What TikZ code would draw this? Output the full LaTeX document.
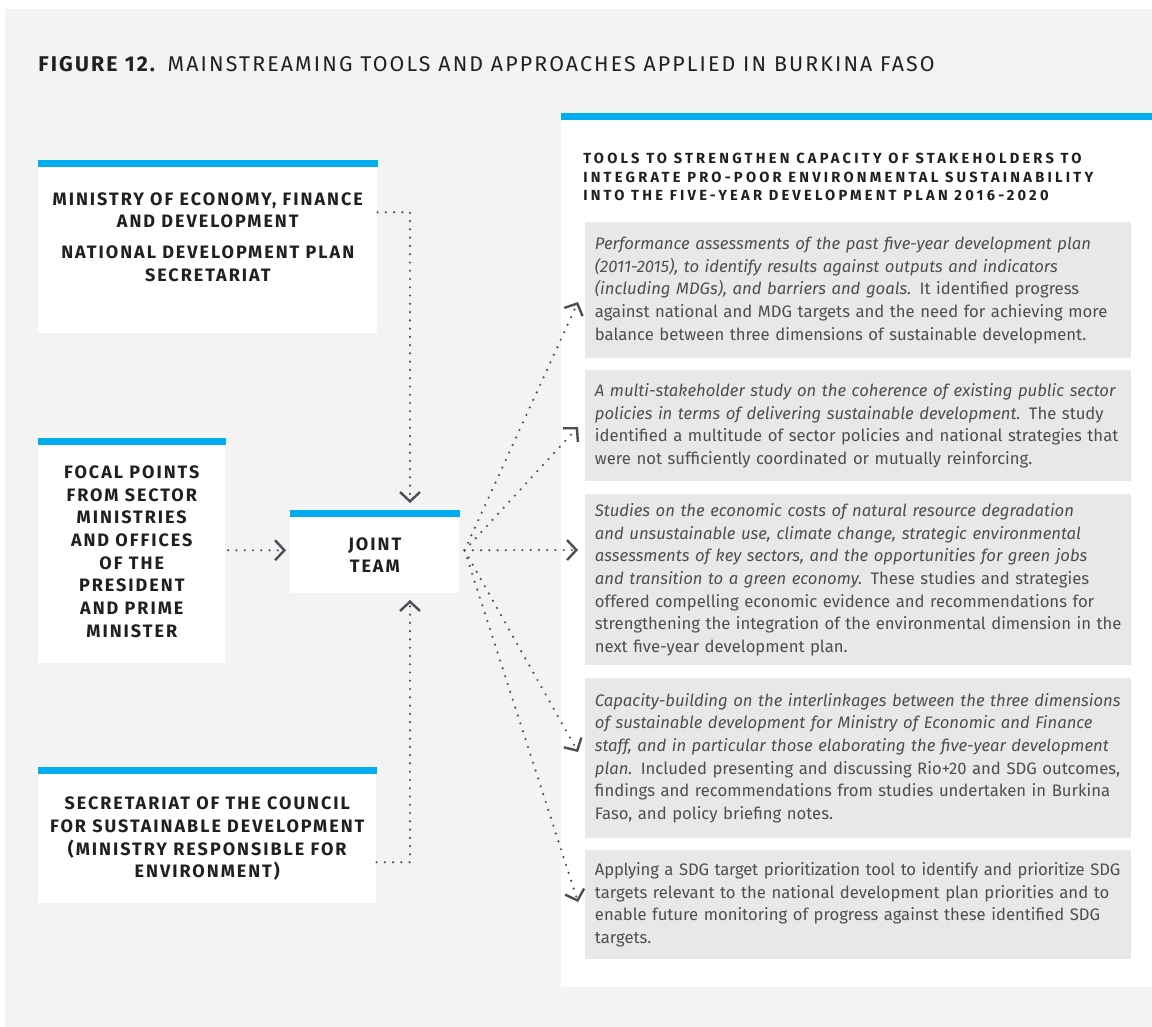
\documentclass[tikz,border=0pt]{standalone}
\usepackage{fontspec}
\setmainfont{Fira Sans}
\newfontfamily\capsfont{Fira Sans}[LetterSpace=11]
\newfontfamily\headfont{Fira Sans}[LetterSpace=22]
\newfontfamily\titlefont{Fira Sans}[LetterSpace=10]
\usetikzlibrary{arrows.meta,positioning}
\definecolor{barblue}{RGB}{0,174,239}
\definecolor{bggrey}{RGB}{243,243,243}
\definecolor{toolgrey}{RGB}{232,233,231}
\definecolor{ink}{RGB}{35,31,32}
\definecolor{bodyink}{RGB}{78,78,80}
\definecolor{arrowgrey}{RGB}{77,77,87}

\begin{document}
\begin{tikzpicture}[x=0.75pt,y=-0.75pt,
		box/.style={fill=white, inner sep=0pt, anchor=north west},
		caps/.style={font=\capsfont\bfseries\fontsize{13.5}{17}\selectfont, text=ink, align=center},
		tool/.style={fill=toolgrey, anchor=north west, inner xsep=7.25pt, inner ysep=0pt, text width=395pt, align=left, text=bodyink, font=\fontsize{12.5}{17}\selectfont},
		flow/.style={draw=arrowgrey, line width=1.8pt, line cap=round, dash pattern=on 0pt off 6.2pt, -{Straight Barb[length=7pt,width=15pt,line width=1.8pt]}}]
		\useasboundingbox (0,0) rectangle (1152,1027);
		\fill[white] (0,0) rectangle (1152,1027);
		\fill[bggrey] (5,9) rectangle (1152,1027);
		
		\node[anchor=base west, inner sep=0pt, text=ink, font=\titlefont\fontsize{16}{19}\selectfont] (title) at (38,72) {\textbf{FIGURE 12.} MAINSTREAMING TOOLS AND APPROACHES APPLIED IN BURKINA FASO};
		
		% the actors
		\node[box, minimum width=254.25pt, minimum height=124.5pt] (mef) at (38,167) {};
		\node[box, minimum width=140.25pt, minimum height=163.5pt] (focal) at (38,445) {};
		\node[box, minimum width=253.5pt, minimum height=96.75pt] (csd) at (38,774) {};
		\node[box, minimum width=126.75pt, minimum height=57pt] (joint) at (290,517) {};
		\node[box, minimum width=443.25pt, minimum height=650.25pt] (panel) at (561,120) {};
		
		\foreach \n in {mef,focal,csd,joint,panel}
			\fill[barblue] (\n.north west) rectangle ([yshift=5.25pt]\n.north east);
		
		\node[caps, yshift=10pt] (mefLbl) at (mef) {MINISTRY OF ECONOMY, FINANCE\\AND DEVELOPMENT\\[6pt]NATIONAL DEVELOPMENT PLAN\\SECRETARIAT};
		\node[caps, yshift=2pt] (focalLbl) at (focal) {FOCAL POINTS\\FROM SECTOR\\MINISTRIES\\AND OFFICES\\OF THE\\PRESIDENT\\AND PRIME\\MINISTER};
		\node[caps] (csdLbl) at (csd) {SECRETARIAT OF THE COUNCIL\\FOR SUSTAINABLE DEVELOPMENT\\(MINISTRY RESPONSIBLE FOR\\ENVIRONMENT)};
		\node[caps] (jointLbl) at (joint) {JOINT\\TEAM};
		
		% the tools
		\node[anchor=north west, align=left, inner sep=0pt, text=ink, font=\headfont\bfseries\fontsize{11}{13.75}\selectfont] (toolsHead) at (583,153) {TOOLS TO STRENGTHEN CAPACITY OF STAKEHOLDERS TO\\INTEGRATE PRO-POOR ENVIRONMENTAL SUSTAINABILITY\\INTO THE FIVE-YEAR DEVELOPMENT PLAN 2016-2020};
		
		\node[tool, minimum height=102pt] (tool1) at (585,222) {\textit{Performance assessments of the past five-year development plan\\(2011-2015), to identify results against outputs and indicators\\(including MDGs), and barriers and goals.} It identified progress\\against national and MDG targets and the need for achieving more\\balance between three dimensions of sustainable development.};
		\node[tool, minimum height=83.25pt] (tool2) at (585,370) {\textit{A multi-stakeholder study on the coherence of existing public sector\\policies in terms of delivering sustainable development.} The study\\identified a multitude of sector policies and national strategies that\\were not sufficiently coordinated or mutually reinforcing.};
		\node[tool, minimum height=128.25pt] (tool3) at (585,494) {\textit{Studies on the economic costs of natural resource degradation\\and unsustainable use, climate change, strategic environmental\\assessments of key sectors, and the opportunities for green jobs\\and transition to a green economy.} These studies and strategies\\offered compelling economic evidence and recommendations for\\strengthening the integration of the environmental dimension in the\\next five-year development plan.};
		\node[tool, minimum height=120pt] (tool4) at (585,678) {\textit{Capacity-building on the interlinkages between the three dimensions\\of sustainable development for Ministry of Economic and Finance\\staff, and in particular those elaborating the five-year development\\plan.} Included presenting and discussing Rio+20 and SDG outcomes,\\findings and recommendations from studies undertaken in Burkina\\Faso, and policy briefing notes.};
		\node[tool, minimum height=81.75pt] (tool5) at (585,850) {\mbox{\addfontfeatures{LetterSpace=-1.2}Applying a SDG target prioritization tool to identify and prioritize SDG}\\targets relevant to the national development plan priorities and to\\enable future monitoring of progress against these identified SDG\\targets.};
		
		% dotted connectors
		\coordinate (mefIn) at (410,503);
		\coordinate (csdIn) at (410,600);
		\coordinate (fan) at ([xshift=3.75pt,yshift=3.75pt]joint.east);
		\draw[flow] ([yshift=28.5pt]mef.east) -| (mefIn);
		\draw[flow] ([xshift=2pt,yshift=3pt]focal.east) -- ([xshift=-3pt,yshift=3.75pt]joint.west);
		\draw[flow] ([yshift=-17.6pt]csd.east) -| (csdIn);
		\foreach \i/\y in {1/302,2/427,3/550,4/752,5/902}
			\draw[flow] (fan) -- ([xshift=-5.25pt]tool\i.west |- 0,\y);
	\end{tikzpicture}
\end{document}
